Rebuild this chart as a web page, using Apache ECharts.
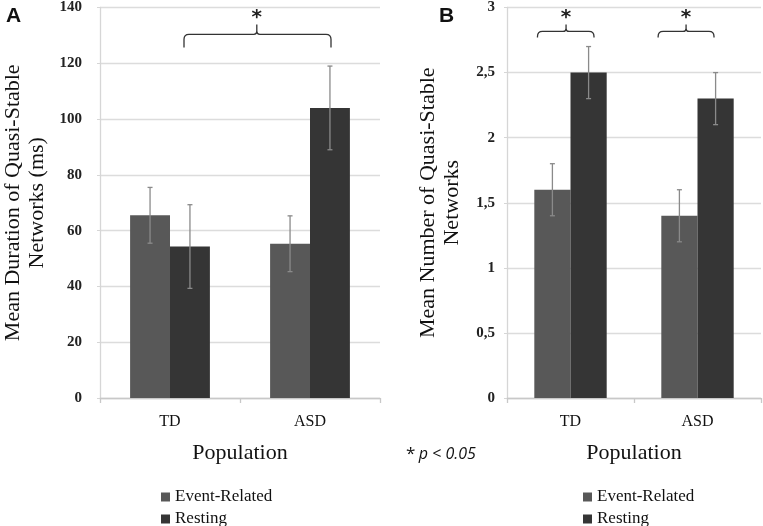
<!DOCTYPE html>
<html>
<head>
<meta charset="utf-8">
<script src="https://cdn.jsdelivr.net/npm/echarts@6/dist/echarts.min.js"></script>
<style>html,body{margin:0;padding:0;background:#fff}#c{width:763px;height:526px}</style>
</head>
<body>
<div id="c"></div>
<script>
// ---- data ----
const categories = ['TD', 'ASD'];
const seriesNames = ['Event-Related', 'Resting'];
// Panel A: mean duration (ms)
const durEvent = [65.5, 55.3];
const durEventErr = [10, 10];
const durRest = [54.3, 104];
const durRestErr = [15, 15];
// Panel B: mean number of networks
const numEvent = [1.6, 1.4];
const numEventErr = [0.2, 0.2];
const numRest = [2.5, 2.3];
const numRestErr = [0.2, 0.2];
// significance braces (positions in category units, heights in data units)
const bracesA = [{start: 0.10, end: 1.15, peak: 0.62, low: 125.7, level: 130.4, top: 133.9}];
const bracesB = [
  {start: -0.26, end: 0.185, peak: -0.035, low: 2.77, level: 2.816, top: 2.87},
  {start: 0.69, end: 1.13, peak: 0.91, low: 2.77, level: 2.816, top: 2.87}
];
const yTicksA = {min: 0, max: 140, interval: 20};
const yTicksB = {min: 0, max: 3, interval: 0.5};

// ---- styling ----
const SERIF = '"Liberation Serif", "DejaVu Serif", serif';
const colEvent = '#585858';
const colRest = '#353535';
const GAP = 0.43;

function errRender(sign) {
  return function (params, api) {
    const i = api.value(0);
    const lo = api.coord([i, api.value(1)]);
    const hi = api.coord([i, api.value(2)]);
    const band = api.size([1, 0])[0];
    const bw = band * (1 - GAP) / 2;
    const x = lo[0] + sign * bw / 2;
    const cap = 2.5;
    const st = {stroke: '#8a8a8a', lineWidth: 1.3};
    return {type: 'group', children: [
      {type: 'line', shape: {x1: x, y1: lo[1], x2: x, y2: hi[1]}, style: st},
      {type: 'line', shape: {x1: x - cap, y1: lo[1], x2: x + cap, y2: lo[1]}, style: st},
      {type: 'line', shape: {x1: x - cap, y1: hi[1], x2: x + cap, y2: hi[1]}, style: st}
    ]};
  };
}

function braceRender(braces) {
  return function (params, api) {
    const b = braces[params.dataIndex];
    const base = api.coord([0, b.level]);
    const band = api.size([1, 0])[0];
    const X = p => base[0] + p * band;
    const y = base[1];
    const yLow = api.coord([0, b.low])[1];
    const yTop = api.coord([0, b.top])[1];
    const x1 = X(b.start), x2 = X(b.end), xp = X(b.peak);
    const r = Math.min(5, yLow - y);
    const r2 = Math.min(3, y - yTop);
    const d = 'M' + x1 + ',' + yLow + ' L' + x1 + ',' + (y + r) +
      ' Q' + x1 + ',' + y + ' ' + (x1 + r) + ',' + y +
      ' L' + (xp - r2) + ',' + y +
      ' Q' + xp + ',' + y + ' ' + xp + ',' + (y - r2) +
      ' L' + xp + ',' + yTop +
      ' M' + xp + ',' + (y - r2) +
      ' Q' + xp + ',' + y + ' ' + (xp + r2) + ',' + y +
      ' L' + (x2 - r) + ',' + y +
      ' Q' + x2 + ',' + y + ' ' + x2 + ',' + (y + r) +
      ' L' + x2 + ',' + yLow;
    return {type: 'group', children: [
      {type: 'path', shape: {pathData: d}, style: {stroke: '#333', lineWidth: 1.3, fill: null}},
      {type: 'text', style: {text: '*', x: xp, y: yTop - 7, align: 'center', verticalAlign: 'middle',
        font: 'bold 20px "DejaVu Sans", sans-serif', fill: '#222'}}
    ]};
  };
}

function xAxisCfg(gi) {
  return {
    type: 'category', gridIndex: gi, data: categories,
    name: 'Population', nameLocation: 'middle', nameGap: 44,
    nameTextStyle: {fontFamily: SERIF, fontSize: 22, color: '#111'},
    axisLine: {lineStyle: {color: '#c8c8c8', width: 1.3}},
    axisTick: {show: true, length: 5, lineStyle: {color: '#c8c8c8', width: 1.3}},
    axisLabel: {fontFamily: SERIF, fontSize: 16, color: '#111', margin: 16}
  };
}
function yAxisCfg(gi, t, name, gap, margin, fmt) {
  return {
    type: 'value', gridIndex: gi, min: t.min, max: t.max, interval: t.interval,
    name: name, nameLocation: 'middle', nameRotate: 90, nameGap: gap,
    nameTextStyle: {fontFamily: SERIF, fontSize: 22, color: '#111', lineHeight: 24},
    axisLine: {show: true, lineStyle: {color: '#d6d6d6', width: 1.3}},
    axisTick: {show: true, length: 3, lineStyle: {color: '#d6d6d6'}},
    splitLine: {lineStyle: {color: '#dcdcdc', width: 1.3}},
    axisLabel: {fontFamily: SERIF, fontSize: 15, fontWeight: 'bold', color: '#222', margin: margin, formatter: fmt}
  };
}

function panelSeries(gi, ev, evErr, rs, rsErr, braces) {
  return [
    {name: seriesNames[0], type: 'bar', xAxisIndex: gi, yAxisIndex: gi, data: ev,
      barGap: '0%', barCategoryGap: (GAP * 100) + '%', itemStyle: {color: colEvent}, silent: true},
    {name: seriesNames[1], type: 'bar', xAxisIndex: gi, yAxisIndex: gi, data: rs,
      barGap: '0%', barCategoryGap: (GAP * 100) + '%', itemStyle: {color: colRest}, silent: true},
    {type: 'custom', xAxisIndex: gi, yAxisIndex: gi, z: 5, silent: true,
      renderItem: errRender(-1), encode: {x: 0, y: [1, 2]},
      data: ev.map((v, i) => [i, v - evErr[i], v + evErr[i]])},
    {type: 'custom', xAxisIndex: gi, yAxisIndex: gi, z: 5, silent: true,
      renderItem: errRender(1), encode: {x: 0, y: [1, 2]},
      data: rs.map((v, i) => [i, v - rsErr[i], v + rsErr[i]])},
    {type: 'custom', xAxisIndex: gi, yAxisIndex: gi, z: 5, silent: true, clip: false,
      renderItem: braceRender(braces), encode: {x: 0, y: 1},
      data: braces.map(b => [0, b.level])}
  ];
}

const chart = echarts.init(document.getElementById('c'), null, {renderer: 'canvas'});
const legendCommon = {
  orient: 'vertical', itemWidth: 9, itemHeight: 9, itemGap: 4, icon: 'rect',
  height: 60,
  textStyle: {fontFamily: SERIF, fontSize: 17, lineHeight: 18, color: '#111'},
  data: seriesNames, selectedMode: false
};
chart.setOption({
  animation: false,
  backgroundColor: '#fff',
  grid: [
    {left: 98, right: 383, top: 6, bottom: 128},
    {left: 507, right: 2, top: 6, bottom: 128}
  ],
  xAxis: [xAxisCfg(0), xAxisCfg(1)],
  yAxis: [
    yAxisCfg(0, yTicksA, 'Mean Duration of Quasi-Stable\nNetworks (ms)', 51, 18, v => String(v)),
    yAxisCfg(1, yTicksB, 'Mean Number of Quasi-Stable\nNetworks', 43, 12, v => String(v).replace('.', ','))
  ],
  legend: [
    Object.assign({left: 156, top: 483}, legendCommon),
    Object.assign({left: 578, top: 483}, legendCommon)
  ],
  graphic: [
    {type: 'text', left: 6, top: 6, style: {text: 'A', font: 'bold 21px "Liberation Sans", Arial, sans-serif', fill: '#111'}},
    {type: 'text', left: 439, top: 6, style: {text: 'B', font: 'bold 21px "Liberation Sans", Arial, sans-serif', fill: '#111'}},
    {type: 'text', left: 406, top: 446, style: {
      text: '{a|*} {b|p < 0.05}',
      rich: {
        a: {fontFamily: '"Open Sans", sans-serif', fontSize: 17, fill: '#111'},
        b: {fontFamily: '"Open Sans", sans-serif', fontStyle: 'italic', fontSize: 16, fill: '#111'}
      }
    }}
  ],
  series: [].concat(
    panelSeries(0, durEvent, durEventErr, durRest, durRestErr, bracesA),
    panelSeries(1, numEvent, numEventErr, numRest, numRestErr, bracesB)
  )
});
</script>
</body>
</html>
